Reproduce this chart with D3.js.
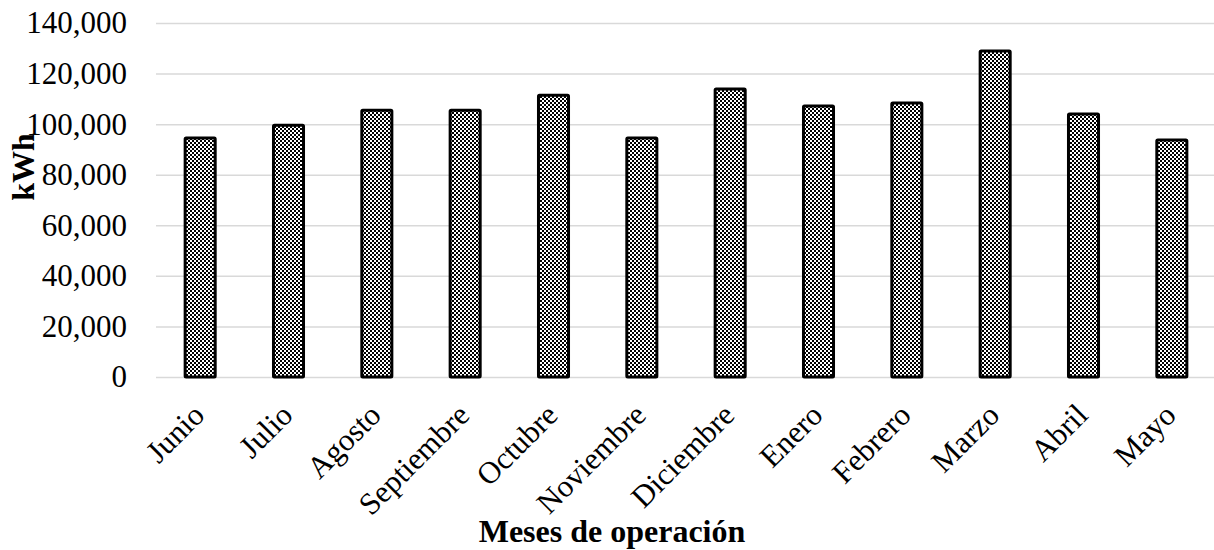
<!DOCTYPE html>
<html>
<head>
<meta charset="utf-8">
<script src="https://cdn.jsdelivr.net/npm/d3@7"></script>
<style>
  body { margin: 0; background: #fff; }
  text { font-family: 'Liberation Serif', 'Times New Roman', serif; fill: #000; }
  .tick-label { font-size: 31px; }
  .axis-title { font-size: 32px; font-weight: bold; }
</style>
</head>
<body>
<svg></svg>
<script>
const months = ['Junio', 'Julio', 'Agosto', 'Septiembre', 'Octubre', 'Noviembre',
  'Diciembre', 'Enero', 'Febrero', 'Marzo', 'Abril', 'Mayo'];
const energy = [94500, 99600, 105500, 105500, 111400, 94500,
  113900, 107200, 108400, 128900, 104000, 93700];
const yTicks = [0, 20000, 40000, 60000, 80000, 100000, 120000, 140000];

const width = 1214;
const height = 550;
const plot = {left: 156, right: 1216, top: 23, bottom: 377};
const format = d3.format(',');

const svg = d3.select('svg')
  .attr('width', width)
  .attr('height', height);

const defs = svg.append('defs');
const pattern = defs.append('pattern')
  .attr('id', 'checks')
  .attr('width', 4)
  .attr('height', 4)
  .attr('patternUnits', 'userSpaceOnUse');
pattern.append('rect').attr('width', 4).attr('height', 4).attr('fill', '#fff');
pattern.append('rect').attr('width', 2).attr('height', 2).attr('fill', '#000');
pattern.append('rect').attr('x', 2).attr('y', 2).attr('width', 2).attr('height', 2).attr('fill', '#000');

const xScale = d3.scaleBand()
  .domain(months)
  .range([plot.left, plot.right])
  .paddingInner(0.66)
  .paddingOuter(0.33);

const yScale = d3.scaleLinear()
  .domain([0, 140000])
  .range([plot.bottom, plot.top]);

// gridlines + y labels
const yAxis = svg.append('g')
  .attr('transform', `translate(${plot.left}, 0)`)
  .call(d3.axisLeft(yScale)
    .tickValues(yTicks)
    .tickFormat(format)
    .tickSize(-(width - plot.left))
    .tickPadding(29));
yAxis.select('.domain').remove();
yAxis.selectAll('.tick line')
  .attr('stroke', '#d9d9d9')
  .attr('stroke-width', 1.5);
yAxis.selectAll('.tick text')
  .attr('class', 'tick-label')
  .attr('font-size', null)
  .attr('font-family', null);

// bars
svg.append('g')
  .selectAll('rect')
  .data(months)
  .join('rect')
    .attr('x', d => xScale(d))
    .attr('y', (d, i) => yScale(energy[i]))
    .attr('width', xScale.bandwidth())
    .attr('height', (d, i) => plot.bottom - yScale(energy[i]))
    .attr('fill', 'url(#checks)')
    .attr('stroke', '#000')
    .attr('stroke-width', 3)
    .attr('rx', 1);

// x labels
const xAxis = svg.append('g')
  .attr('transform', `translate(0, ${plot.bottom})`)
  .call(d3.axisBottom(xScale).tickSize(0).tickPadding(0));
xAxis.select('.domain').remove();
xAxis.selectAll('.tick text')
  .attr('class', 'tick-label')
  .attr('font-size', null)
  .attr('font-family', null)
  .attr('text-anchor', 'end')
  .attr('dy', null)
  .attr('y', null)
  .attr('transform', 'translate(6, 40) rotate(-45)');

svg.append('text')
  .attr('class', 'axis-title')
  .attr('x', 612)
  .attr('y', 542)
  .attr('text-anchor', 'middle')
  .text('Meses de operación');

svg.append('text')
  .attr('class', 'axis-title')
  .attr('transform', 'translate(34, 167) rotate(-90)')
  .attr('text-anchor', 'middle')
  .text('kWh');
</script>
</body>
</html>
